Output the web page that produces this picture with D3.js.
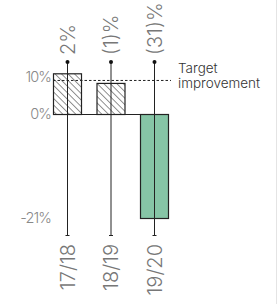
<!DOCTYPE html>
<html>
<head>
<meta charset="utf-8">
<script src="https://cdn.jsdelivr.net/npm/d3@7"></script>
<style>
  body { margin: 0; background: #fff; }
  svg { display: block; font-family: "Inter", "Open Sans", sans-serif; font-weight: 300; }
</style>
</head>
<body>
<div id="chart"></div>
<script>
// data
var years = ["17/18", "18/19", "19/20"];
var values = [11, 8.4, -21];
var changeLabels = ["2%", "(1)%", "(31)%"];
var tickValues = [10, 0, -21];
var tickLabels = ["10%", "0%", "-21%"];
var target = 9.2;

var width = 277, height = 304;

var svg = d3.select("#chart").append("svg")
    .attr("width", width)
    .attr("height", height);

// hatch pattern for the first two years
var defs = svg.append("defs");
defs.append("pattern")
    .attr("id", "hatch")
    .attr("patternUnits", "userSpaceOnUse")
    .attr("width", 4.6)
    .attr("height", 4.6)
    .attr("patternTransform", "rotate(-45)")
    .append("line")
    .attr("x1", 0).attr("y1", 0)
    .attr("x2", 0).attr("y2", 4.6)
    .attr("stroke", "#222")
    .attr("stroke-width", 1);

// scales (chart is schematic: negative side is squashed differently)
var x = d3.scalePoint().domain(years).range([67, 154]);
var y = d3.scaleLinear().domain([-21, 0, 10]).range([218, 114, 77]);
var barW = 28;

// vertical stems
var stems = svg.append("g");
stems.selectAll("line.stem")
    .data(years)
    .enter().append("line")
    .attr("class", "stem")
    .attr("x1", function (d) { return x(d) + 0.5; })
    .attr("x2", function (d) { return x(d) + 0.5; })
    .attr("y1", 62)
    .attr("y2", 235)
    .attr("stroke", "#222")
    .attr("stroke-width", 1);

// bars
svg.append("g")
    .selectAll("rect")
    .data(values)
    .enter().append("rect")
    .attr("x", function (d, i) { return x(years[i]) - barW / 2 + 0.5; })
    .attr("y", function (d) { return Math.min(y(d), y(0)) + 0.5; })
    .attr("width", barW)
    .attr("height", function (d) { return Math.abs(y(d) - y(0)); })
    .attr("fill", function (d, i) { return d < 0 ? "#86c5a6" : "url(#hatch)"; })
    .attr("stroke", "#222")
    .attr("stroke-width", 1.2);

// redraw stems over bars
stems.raise();

stems.selectAll("circle")
    .data(years)
    .enter().append("circle")
    .attr("cx", function (d) { return x(d) + 0.5; })
    .attr("cy", 62)
    .attr("r", 2)
    .attr("fill", "#111");

stems.selectAll("line.tick")
    .data(years)
    .enter().append("line")
    .attr("class", "tick")
    .attr("x1", function (d) { return x(d) - 1.5; })
    .attr("x2", function (d) { return x(d) + 2.5; })
    .attr("y1", 235.5)
    .attr("y2", 235.5)
    .attr("stroke", "#222");

// zero baseline
svg.append("line")
    .attr("x1", x(years[0]) - barW / 2)
    .attr("x2", x(years[2]) + barW / 2 + 1)
    .attr("y1", y(0) + 0.5)
    .attr("y2", y(0) + 0.5)
    .attr("stroke", "#222")
    .attr("stroke-width", 1.2);

// target line
svg.append("line")
    .attr("x1", x(years[0]) - barW / 2)
    .attr("x2", 171)
    .attr("y1", y(target) + 0.5)
    .attr("y2", y(target) + 0.5)
    .attr("stroke", "#222")
    .attr("stroke-dasharray", "2.5,2");

svg.append("text")
    .attr("x", 178)
    .attr("y", 68)
    .attr("dy", "0.35em")
    .attr("font-size", 13.5)
    .attr("fill", "#333")
    .text("Target");
svg.append("text")
    .attr("x", 178)
    .attr("y", 83)
    .attr("dy", "0.35em")
    .attr("font-size", 13.5)
    .attr("fill", "#333")
    .text("improvement");

// y tick labels
svg.append("g")
    .selectAll("text")
    .data(tickValues)
    .enter().append("text")
    .attr("x", 51)
    .attr("y", function (d) { return y(d); })
    .attr("dy", "0.35em")
    .attr("text-anchor", "end")
    .attr("font-size", 14.5)
    .attr("fill", "#888")
    .attr("letter-spacing", "-0.9")
    .text(function (d, i) { return tickLabels[i]; });

// change labels on top
svg.append("g")
    .selectAll("text")
    .data(changeLabels)
    .enter().append("text")
    .attr("transform", function (d, i) {
        return "translate(" + (x(years[i]) + 0.5) + ",55) rotate(-90)";
    })
    .attr("dy", "0.36em")
    .attr("text-anchor", "start")
    .attr("font-size", 20)
    .attr("fill", "#777")
    .text(function (d) { return d; });

// year labels at bottom
svg.append("g")
    .selectAll("text")
    .data(years)
    .enter().append("text")
    .attr("transform", function (d) {
        return "translate(" + (x(d) + 0.5) + ",244) rotate(-90)";
    })
    .attr("dy", "0.36em")
    .attr("text-anchor", "end")
    .attr("font-size", 20)
    .attr("fill", "#777")
    .text(function (d) { return d; });

// right edge rule
svg.append("line")
    .attr("x1", 276.5).attr("x2", 276.5)
    .attr("y1", 0).attr("y2", height)
    .attr("stroke", "#e4e4e4");
</script>
</body>
</html>
